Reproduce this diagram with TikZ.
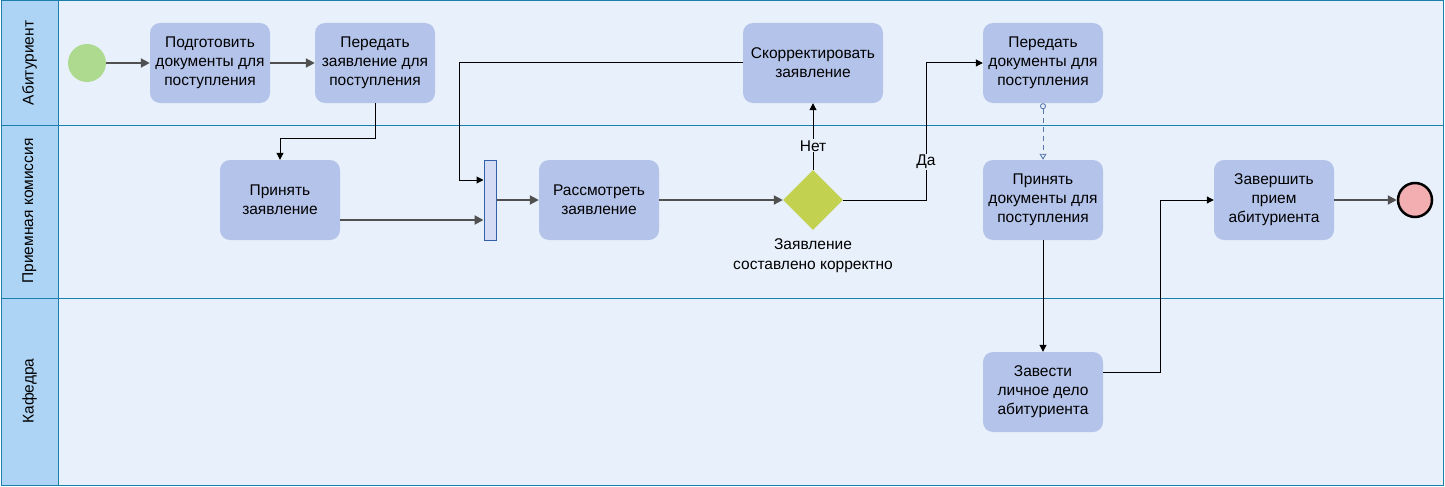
\documentclass[tikz,border=0pt]{standalone}
\usepackage{fontspec}
\setmainfont{Liberation Sans}
\usetikzlibrary{arrows.meta,shapes.geometric}
\definecolor{lanebg}{HTML}{E8F1FB}
\definecolor{headbg}{HTML}{AED4F5}
\definecolor{laneline}{HTML}{1C80AC}
\definecolor{taskfill}{HTML}{B4C3EA}
\definecolor{startfill}{HTML}{ADDA8F}
\definecolor{endfill}{HTML}{F2AEB0}
\definecolor{gwfill}{HTML}{C3D150}
\definecolor{flowgray}{HTML}{505050}
\definecolor{assoc}{HTML}{5A78B0}
\definecolor{barfill}{HTML}{D3DCF4}
\definecolor{barline}{HTML}{3460A8}
\tikzset{
  task/.style={draw=none, fill=taskfill, rounded corners=10pt, minimum width=120pt,
    minimum height=80pt, align=center, inner sep=2pt,
    font=\fontsize{15.5}{19}\selectfont},
  mainflow/.style={draw=flowgray, line width=2pt, -{Triangle[length=9pt,width=9pt]}},
  thinflow/.style={draw=black, line width=1pt, -{Triangle[length=7pt,width=7pt]}},
  assocflow/.style={draw=assoc, line width=0.9pt, dash pattern=on 5pt off 4pt,
    {Circle[open,length=6pt,width=6pt]}-{Triangle[open,length=6pt,width=7pt]}},
  lanelabel/.style={rotate=90, font=\fontsize{15.5}{19}\selectfont},
  flowlabel/.style={font=\fontsize{15.5}{18}\selectfont, fill=lanebg, inner sep=1pt}
}
\begin{document}
\begin{tikzpicture}[x=1pt,y=-1pt]
\useasboundingbox (0,0) rectangle (1445,487);
% pool and lanes
\fill[lanebg] (1,1) rectangle (1443,485);
\fill[headbg] (1,1) rectangle (58,485);
\draw[laneline, line width=1pt] (1,1) rectangle (1443,485);
\draw[laneline, line width=1pt] (58,1) -- (58,485);
\draw[laneline, line width=1pt] (1,125) -- (1443,125);
\draw[laneline, line width=1pt] (1,298) -- (1443,298);
\node[lanelabel] (lane1) at (29.5,63) {Абитуриент};
\node[lanelabel] (lane2) at (29.5,211) {Приемная комиссия};
\node[lanelabel] (lane3) at (29.5,391) {Кафедра};

% events
\node[circle, fill=startfill, minimum size=38pt, inner sep=0pt] (start) at (87,63) {};
\node[circle, fill=endfill, draw=black, line width=2.5pt, minimum size=34pt, inner sep=0pt] (end) at (1415,200) {};

% tasks
\node[task] (t1) at (210,63) {Подготовить\\документы для\\поступления};
\node[task] (t2) at (375,63) {Передать\\заявление для\\поступления};
\node[task, minimum width=140pt] (t3) at (813,63) {Скорректировать\\заявление};
\node[task] (t4) at (1043,63) {Передать\\документы для\\поступления};
\node[task] (t5) at (280,200) {Принять\\заявление};
\node[task] (t6) at (599,200) {Рассмотреть\\заявление};
\node[task] (t7) at (1043,200) {Принять\\документы для\\поступления};
\node[task] (t8) at (1274,200) {Завершить\\прием\\абитуриента};
\node[task] (t9) at (1043,392) {Завести\\личное дело\\абитуриента};

% join bar and gateway
\node[draw=barline, fill=barfill, line width=1pt, minimum width=12pt, minimum height=80pt, inner sep=0pt] (bar) at (490,200) {};
\node[diamond, fill=gwfill, minimum width=60pt, minimum height=60pt, inner sep=0pt] (gw) at (813,200) {};
\node[align=center, font=\fontsize{15.5}{20}\selectfont, anchor=north] (gwlabel) at (813,235) {Заявление\\составлено корректно};

% flows
\draw[mainflow] (start) -- (t1);
\draw[mainflow] (t1) -- (t2);
\draw[thinflow] (t2.south) -- (375,138) -| (t5.north);
\draw[mainflow] (t5.east |- 0,220) -- (bar.west |- 0,220);
\draw[thinflow] (t3.west) -- (459,63) |- (bar.west |- 0,180);
\draw[mainflow] (bar) -- (t6);
\draw[mainflow] (t6) -- (gw);
\draw[thinflow] (gw.north) -- node[flowlabel, pos=0.36] (no) {Нет} (t3.south);
\draw[thinflow] (gw.east) -| node[flowlabel, pos=0.64] (yes) {Да} (926,63) -- (t4.west);
\draw[assocflow] (t4.south) -- (t7.north);
\draw[thinflow] (t7.south) -- (t9.north);
\draw[thinflow] (t9.east |- 0,372) -| (1160,200) -- (t8.west);
\draw[mainflow] (t8) -- (end);
\end{tikzpicture}
\end{document}
